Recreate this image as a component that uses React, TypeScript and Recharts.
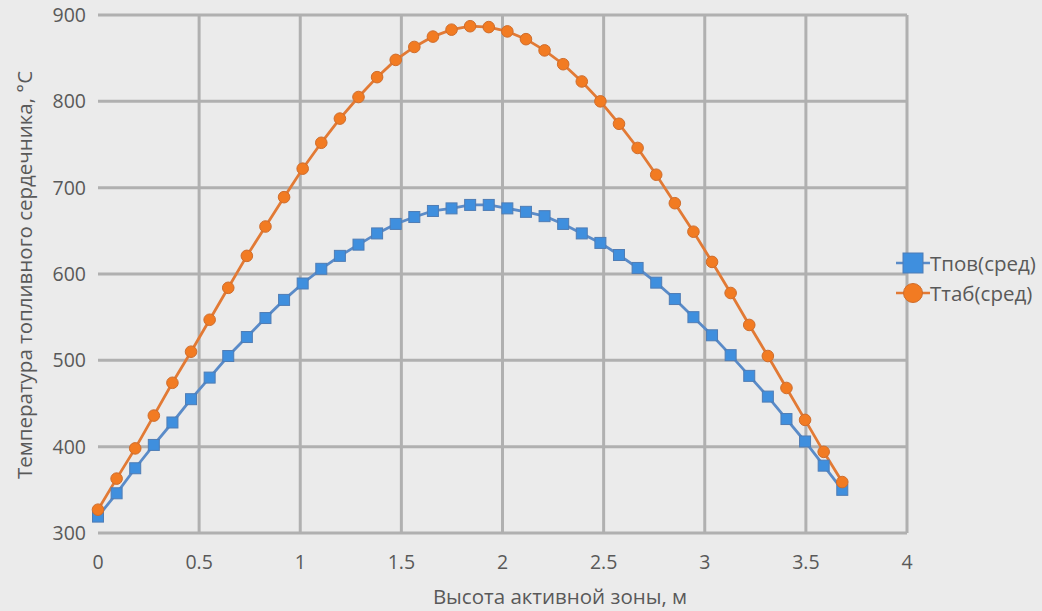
import React from 'react';
import { LineChart, Line, XAxis, YAxis, CartesianGrid, Legend } from 'recharts';

// active core height, m
const heights = [
  0, 0.092, 0.184, 0.276, 0.368, 0.46, 0.552, 0.644, 0.736, 0.828, 0.92, 1.012, 1.104, 1.196,
  1.288, 1.38, 1.472, 1.564, 1.656, 1.748, 1.84, 1.932, 2.024, 2.116, 2.208, 2.3, 2.392, 2.484,
  2.576, 2.668, 2.76, 2.852, 2.944, 3.036, 3.128, 3.22, 3.312, 3.404, 3.496, 3.588, 3.68,
];

const tPov = [
  319, 346, 375, 402, 428, 455, 480, 505, 527, 549, 570, 589, 606, 621, 634, 647, 658, 666, 673,
  676, 680, 680, 676, 672, 667, 658, 647, 636, 622, 607, 590, 571, 550, 529, 506, 482, 458, 432,
  406, 378, 350,
];

const tTab = [
  327, 363, 398, 436, 474, 510, 547, 584, 621, 655, 689, 722, 752, 780, 805, 828, 848, 863, 875,
  883, 887, 886, 881, 872, 859, 843, 823, 800, 774, 746, 715, 682, 649, 614, 578, 541, 505, 468,
  431, 394, 359,
];

const xTicks = [0, 0.5, 1, 1.5, 2, 2.5, 3, 3.5, 4];
const yTicks = [300, 400, 500, 600, 700, 800, 900];

const rows = heights.map((h, i) => ({ h, pov: tPov[i], tab: tTab[i] }));

const FONT = '"Open Sans", "Noto Sans", sans-serif';
const TEXT = '#595959';
const BG = '#ebebeb';
const GRID = '#b0b0b0';

const BLUE_LINE = '#5a8bc8';
const BLUE_FILL = '#3f8fde';
const BLUE_EDGE = '#4f7db5';
const ORANGE_LINE = '#e27a35';
const ORANGE_FILL = '#f27b22';
const ORANGE_EDGE = '#cf6d2c';

const SquareDot = (props: any) => {
  const { cx, cy, index } = props;
  if (cx == null || cy == null) return null;
  return (
    <rect key={`sq-${index}`} x={cx - 5.5} y={cy - 5.5} width={11} height={11}
      fill={BLUE_FILL} stroke={BLUE_EDGE} strokeWidth={1} />
  );
};

const CircleDot = (props: any) => {
  const { cx, cy, index } = props;
  if (cx == null || cy == null) return null;
  return (
    <circle key={`ci-${index}`} cx={cx} cy={cy} r={5.8}
      fill={ORANGE_FILL} stroke={ORANGE_EDGE} strokeWidth={1} />
  );
};

const legendItems = [
  { name: 'Тпов(сред)', kind: 'square' },
  { name: 'Ттаб(сред)', kind: 'circle' },
];

const LegendBox = () => (
  <div style={{ marginLeft: -11, fontFamily: FONT, fontSize: 20.5, color: TEXT }}>
    {legendItems.map((it) => (
      <div key={it.name} style={{ display: 'flex', alignItems: 'center', height: 30, whiteSpace: 'nowrap' }}>
        <svg width={34} height={22} style={{ flex: 'none' }}>
          {it.kind === 'square' ? (
            <>
              <line x1={0} y1={11} x2={34} y2={11} stroke={BLUE_LINE} strokeWidth={2.5} />
              <rect x={7} y={1} width={20} height={20} fill={BLUE_FILL} stroke={BLUE_EDGE} />
            </>
          ) : (
            <>
              <line x1={0} y1={11} x2={34} y2={11} stroke={ORANGE_LINE} strokeWidth={2.5} />
              <circle cx={17} cy={11} r={9.5} fill={ORANGE_FILL} stroke={ORANGE_EDGE} />
            </>
          )}
        </svg>
        <span>{it.name}</span>
      </div>
    ))}
  </div>
);

const App: React.FC = () => {
  return (
    <div style={{ position: 'fixed', left: 0, top: 0, width: 1042, height: 611, background: BG }}>
      <LineChart width={1042} height={611} data={rows} margin={{ top: 15, right: 0, bottom: 0, left: 0 }}>
        <CartesianGrid
          stroke={GRID}
          strokeWidth={3}
          fill={BG}
          verticalCoordinatesGenerator={({ offset }: any) =>
            xTicks.slice(1).map((t) => offset.left + (t / 4) * offset.width)
          }
        />
        <XAxis
          dataKey="h"
          type="number"
          domain={[0, 4]}
          ticks={xTicks}
          axisLine={false}
          tickLine={false}
          tickSize={0}
          tickMargin={22}
          height={78}
          tick={{ fill: TEXT, fontSize: 19.5, fontFamily: FONT }}
          label={({ viewBox }: any) => (
            <text x={560} y={viewBox.y + 71} textAnchor="middle" fill={TEXT}
              fontSize={20.5} fontFamily={FONT}>
              Высота активной зоны, м
            </text>
          )}
        />
        <YAxis
          type="number"
          domain={[300, 900]}
          ticks={yTicks}
          axisLine={false}
          tickLine={false}
          tickSize={0}
          tickMargin={12}
          width={98}
          tick={{ fill: TEXT, fontSize: 19.5, fontFamily: FONT }}
          label={() => (
            <text x={24} y={275} transform="rotate(-90 24 275)" textAnchor="middle"
              dominantBaseline="central" fill={TEXT} fontSize={20.5} fontFamily={FONT}>
              Температура топливного сердечника, °С
            </text>
          )}
        />
        <Legend
          layout="vertical"
          align="right"
          verticalAlign="middle"
          width={135}
          wrapperStyle={{ top: 248 }}
          content={() => <LegendBox />}
        />
        <Line
          dataKey="pov"
          name="Тпов(сред)"
          stroke={BLUE_LINE}
          strokeWidth={2.8}
          dot={<SquareDot />}
          activeDot={false}
          isAnimationActive={false}
        />
        <Line
          dataKey="tab"
          name="Ттаб(сред)"
          stroke={ORANGE_LINE}
          strokeWidth={2.8}
          dot={<CircleDot />}
          activeDot={false}
          isAnimationActive={false}
        />
      </LineChart>
    </div>
  );
};

export default App;
